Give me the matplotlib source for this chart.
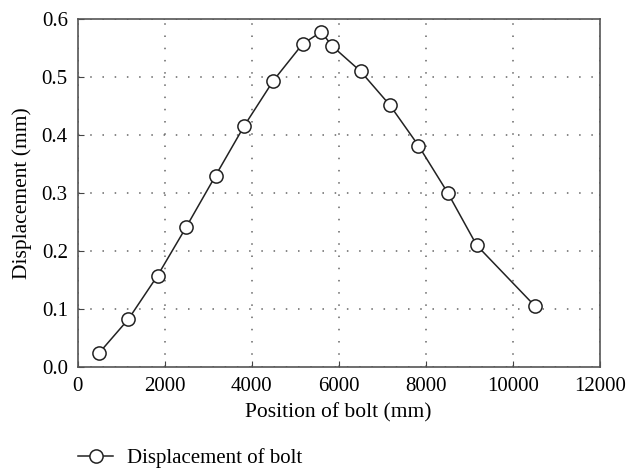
import matplotlib
matplotlib.use("Agg")
import matplotlib.pyplot as plt

position = [500, 1170, 1840, 2500, 3170, 3830, 4500, 5170, 5600, 5840, 6500, 7170, 7830, 8500, 9170, 10500]
displacement = [0.025, 0.083, 0.158, 0.242, 0.330, 0.416, 0.494, 0.557, 0.578, 0.554, 0.510, 0.452, 0.382, 0.301, 0.210, 0.106]
xticks = [0, 2000, 4000, 6000, 8000, 10000, 12000]
yticks = [0.0, 0.1, 0.2, 0.3, 0.4, 0.5, 0.6]
series_label = "Displacement of bolt"

plt.rcParams['font.family'] = ['Liberation Serif', 'DejaVu Serif']
W, H = 636, 470
fig = plt.figure(figsize=(W/100, H/100), dpi=100)
L, R, T, B = 77.5, 600, 19, 367.3
ax = fig.add_axes([L/W, 1 - B/H, (R-L)/W, (B-T)/H])

line, = ax.plot(position, displacement, color='#222222', lw=1.1, marker='o', ms=9.5,
                mfc='white', mec='#222222', mew=1.1, label=series_label, zorder=3)

ax.set_xlim(0, 12000)
ax.set_ylim(0, 0.6)
ax.set_xticks(xticks)
ax.set_yticks(yticks)
ax.set_xticklabels([str(t) for t in xticks])
ax.set_yticklabels([f"{t:.1f}" for t in yticks])
ax.tick_params(direction='in', labelsize=15, length=4, color='#444444', top=False, right=False)
ax.tick_params(axis='x', pad=7)
ax.tick_params(axis='y', pad=7)
ax.grid(True, color='#666666', linestyle=(0, (1, 7)), linewidth=1.1)
for s in ax.spines.values():
    s.set_color('#555555')
    s.set_linewidth(1.2)

ax.set_xlabel("Position of bolt (mm)", fontsize=15.5)
ax.set_ylabel("Displacement (mm)", fontsize=15.5)
ax.xaxis.set_label_coords((338 - L)/(R - L), -(413 - B)/(B - T))
ax.xaxis.label.set_va('center')
ax.yaxis.set_label_coords(-(L - 22)/(R - L), 0.5)
ax.yaxis.label.set_va('center')

fig.legend(handles=[line], loc='center left', bbox_to_anchor=(78/W, 1 - 458/H),
           frameon=False, fontsize=15, handlelength=1.7, handletextpad=0.65,
           borderpad=0, borderaxespad=0, markerscale=1.0)

fig.savefig("out.png", dpi=100)
